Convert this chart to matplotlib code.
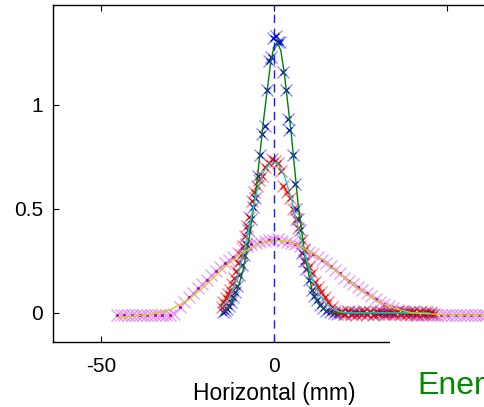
import numpy as np
import matplotlib
matplotlib.use("Agg")
import matplotlib.pyplot as plt
from matplotlib.patches import Rectangle

plt.rcParams['font.family'] = ['Liberation Sans', 'DejaVu Sans']

# blue scan (narrow beam)
blue_x = [-14.7, -14.2, -13.6, -13.0, -12.4, -11.8, -11.2, -10.6, -10.0, -9.4,
          -8.8, -8.2, -7.4, -6.8, -6.0, -5.5, -4.6, -4.0, -3.4, -2.6,
          -2.1, -1.4, -1.0, -0.3, 0.6, 1.2, 1.7, 2.6, 3.5, 4.0,
          4.4, 5.5, 6.1, 6.5, 7.0, 7.5, 8.0, 8.7, 9.4, 10.2,
          10.9, 11.6, 12.4, 13.3, 14.2, 15.2, 16.2, 17.3, 18.3, 19.4,
          20.4, 21.5, 22.6, 23.6, 24.7, 25.8, 26.9, 27.9, 29.0, 30.1,
          31.2, 32.3, 33.4, 34.5, 35.6, 36.7, 37.8, 38.9, 40.0, 41.1,
          42.2, 43.3, 44.4, 45.4]
blue_y = [0.005, 0.01, 0.02, 0.035, 0.05, 0.075, 0.10, 0.13, 0.18, 0.23,
          0.28, 0.33, 0.40, 0.45, 0.51, 0.55, 0.66, 0.76, 0.86, 0.90,
          1.07, 1.21, 1.23, 1.32, 1.33, 1.30, 1.30, 1.16, 1.07, 0.93,
          0.88, 0.76, 0.62, 0.50, 0.45, 0.40, 0.29, 0.25, 0.21, 0.16,
          0.11, 0.08, 0.06, 0.04, 0.025, 0.01, 0.005, 0.0, -0.005, 0.002,
          -0.004, 0.003, -0.006, 0.004, -0.002, 0.005, -0.004, 0.002, -0.006, 0.004,
          0.0, -0.005, 0.006, -0.003, 0.002, -0.006, 0.004, -0.002, 0.005, -0.004,
          0.003, -0.005, 0.002, -0.003]

# red scan (medium beam)
red_x = [-15.1, -14.7, -14.0, -13.4, -12.7, -12.1, -11.5, -10.9, -10.3, -9.6,
         -8.9, -8.3, -7.7, -7.2, -6.4, -5.7, -5.0, -4.3, -3.6, -2.5,
         -1.5, -0.7, 0.2, 1.2, 2.0, 2.7, 3.7, 4.6, 5.6, 6.3,
         7.0, 8.0, 8.7, 9.4, 10.2, 10.9, 11.8, 12.7, 13.6, 14.7,
         15.7, 16.7, 17.8, 19.0, 19.8, 20.6, 21.4, 22.2, 23.0, 23.8,
         24.6, 25.4, 26.2, 27.0, 27.8, 28.6, 29.4, 30.2, 31.0, 31.8,
         32.6, 33.4, 34.2, 35.0, 35.8, 36.6, 37.4, 38.2, 39.0, 39.8,
         40.6, 41.4, 42.2, 43.0, 43.8, 44.6, 45.4, 46.2]
red_y = [0.03, 0.05, 0.07, 0.09, 0.11, 0.14, 0.17, 0.20, 0.24, 0.28,
         0.32, 0.37, 0.42, 0.46, 0.54, 0.58, 0.61, 0.64, 0.66, 0.70,
         0.72, 0.74, 0.73, 0.72, 0.68, 0.61, 0.58, 0.55, 0.50, 0.45,
         0.41, 0.35, 0.30, 0.25, 0.22, 0.19, 0.15, 0.125, 0.10, 0.077,
         0.05, 0.03, 0.01, 0.0, 0.006, -0.006, 0.008, -0.004, 0.005, -0.008,
         0.004, -0.005, 0.007, -0.006, 0.003, -0.008, 0.006, -0.004, 0.008, -0.006,
         0.004, -0.007, 0.006, -0.003, 0.008, -0.006, 0.004, -0.008, 0.005, -0.004,
         0.007, -0.006, 0.004, -0.005, 0.006, -0.004, 0.005, -0.006]

# magenta scan (wide beam)
mag_x = [-45.5, -44.4, -43.3, -42.2, -41.1, -40.0, -38.9, -37.8, -36.7, -35.6,
         -34.5, -33.4, -32.3, -31.2, -30.1, -29.0, -27.2, -26.0, -24.7, -23.4,
         -22.1, -20.8, -19.5, -18.2, -16.9, -15.6, -14.3, -13.0, -11.8, -10.5,
         -9.2, -7.9, -6.6, -5.3, -4.0, -2.7, -1.4, -0.2, 1.1, 2.4,
         3.7, 5.0, 6.2, 7.5, 8.8, 10.1, 11.4, 12.7, 14.0, 15.2,
         16.5, 17.8, 19.0, 20.3, 21.6, 22.9, 24.2, 25.5, 26.8, 28.1,
         29.4, 30.6, 31.9, 33.2, 34.5, 35.8, 37.1, 38.3, 39.5, 40.6,
         41.7, 42.8, 43.9, 45.0, 46.1, 47.2, 48.3, 49.4, 50.5, 51.6,
         52.7, 53.8, 54.9, 56.0, 57.1, 58.2, 59.3, 60.4, 61.5, 62.6]
mag_y = [-0.01, -0.012, -0.008, -0.011, -0.009, -0.012, -0.008, -0.01, -0.011, -0.009,
         -0.012, -0.008, -0.01, -0.009, -0.011, -0.005, 0.03, 0.05, 0.075, 0.095,
         0.12, 0.14, 0.16, 0.18, 0.20, 0.22, 0.24, 0.255, 0.27, 0.29,
         0.31, 0.32, 0.33, 0.335, 0.34, 0.345, 0.35, 0.35, 0.355, 0.345,
         0.34, 0.335, 0.33, 0.32, 0.305, 0.295, 0.285, 0.27, 0.255, 0.24,
         0.225, 0.205, 0.19, 0.17, 0.155, 0.14, 0.125, 0.11, 0.095, 0.08,
         0.066, 0.054, 0.043, 0.033, 0.023, 0.015, 0.008, 0.0, -0.008, -0.01,
         -0.012, -0.009, -0.011, -0.01, -0.012, -0.008, -0.011, -0.01, -0.009, -0.012,
         -0.01, -0.011, -0.009, -0.012, -0.01, -0.011, -0.009, -0.01, -0.012, -0.01]

# fitted curves
fit_blue_x = [-15, -13, -11, -9, -7, -5, -3, -1, 0, 1, 2, 3, 5, 7, 9, 11, 13, 15, 17, 20, 45]
fit_blue_y = [0.0, 0.03, 0.09, 0.2, 0.38, 0.62, 0.93, 1.2, 1.28, 1.30, 1.26, 1.15, 0.86, 0.52, 0.27, 0.11, 0.04, 0.01, 0.0, 0.0, 0.0]
fit_red_x = [-15, -13, -11, -9, -7, -5, -3, -1, 0, 1, 3, 5, 7, 9, 11, 13, 15, 17, 19, 21, 45]
fit_red_y = [0.03, 0.07, 0.15, 0.27, 0.43, 0.58, 0.68, 0.72, 0.725, 0.72, 0.66, 0.55, 0.41, 0.28, 0.17, 0.09, 0.045, 0.02, 0.005, 0.0, 0.0]
fit_mag_x = [-45, -40, -35, -30, -25, -20, -15, -10, -5, 0, 5, 10, 15, 20, 25, 30, 35, 40, 45, 50, 63]
fit_mag_y = [-0.02, -0.015, -0.005, 0.015, 0.06, 0.13, 0.21, 0.28, 0.33, 0.35, 0.34, 0.30, 0.245, 0.175, 0.11, 0.055, 0.02, 0.0, -0.005, -0.01, -0.01]

fig = plt.figure(figsize=(4.84, 4.07), dpi=100)
ax = fig.add_axes([53 / 484, 1 - 342 / 407, (495 - 53) / 484, (342 - 5) / 407])

ax.plot(mag_x, mag_y, 'x', color=(0.87, 0.4, 0.92), ms=9, mew=1.0, alpha=0.6)
ax.plot(mag_x[::2], mag_y[::2], '.', color=(0.75, 0.0, 0.75), ms=2.5)
ax.plot(blue_x, blue_y, 'x', color=(0.25, 0.3, 1.0), ms=9, mew=1.0, alpha=0.6)
ax.plot(blue_x, blue_y, 'x', color=(0.0, 0.0, 0.8), ms=4, mew=0.8)
ax.plot(red_x, red_y, 'x', color=(1.0, 0.25, 0.25), ms=9, mew=1.0, alpha=0.6)
ax.plot(red_x, red_y, 'x', color=(0.9, 0.0, 0.0), ms=4, mew=0.8)

ax.plot(fit_blue_x, fit_blue_y, color=(0.0, 0.5, 0.0), lw=1.0)
ax.plot(fit_red_x, fit_red_y, color=(0.1, 0.8, 0.8), lw=1.0)
ax.plot(fit_mag_x, fit_mag_y, color=(0.8, 0.8, 0.1), lw=1.0)
ax.axvline(0, color=(0.1, 0.1, 1.0), ls=(0, (6, 4)), lw=1.0)

ax.set_xlim(-64, 64)
ax.set_ylim(-0.14, 1.48)
ax.set_xticks([-50, 0, 50])
ax.set_xticklabels(['-50', '0', ''])  # the "50" label sits under the white block
ax.set_yticks([0, 0.5, 1])
ax.set_yticklabels(['0', '0.5', '1'])
ax.tick_params(direction='in', top=True, right=True, length=4, width=0.8,
               labelsize=15, pad=7)
ax.tick_params(axis='x', pad=11)
ax.set_xlabel('Horizontal (mm)', fontsize=16.5, labelpad=4)
for s in ax.spines.values():
    s.set_linewidth(1.0)

# white block covering lower right, as in the slide
fig.patches.append(Rectangle((390 / 484, 0), 1, 1 - 336 / 407, transform=fig.transFigure,
                             facecolor='white', edgecolor='none', zorder=5))
fig.text(417 / 484, 1 - 394 / 407, 'Energy', color=(0.0, 0.55, 0.0), fontsize=23,
         family=['Liberation Sans', 'DejaVu Sans'], zorder=6)

fig.savefig('out.png', dpi=100)
